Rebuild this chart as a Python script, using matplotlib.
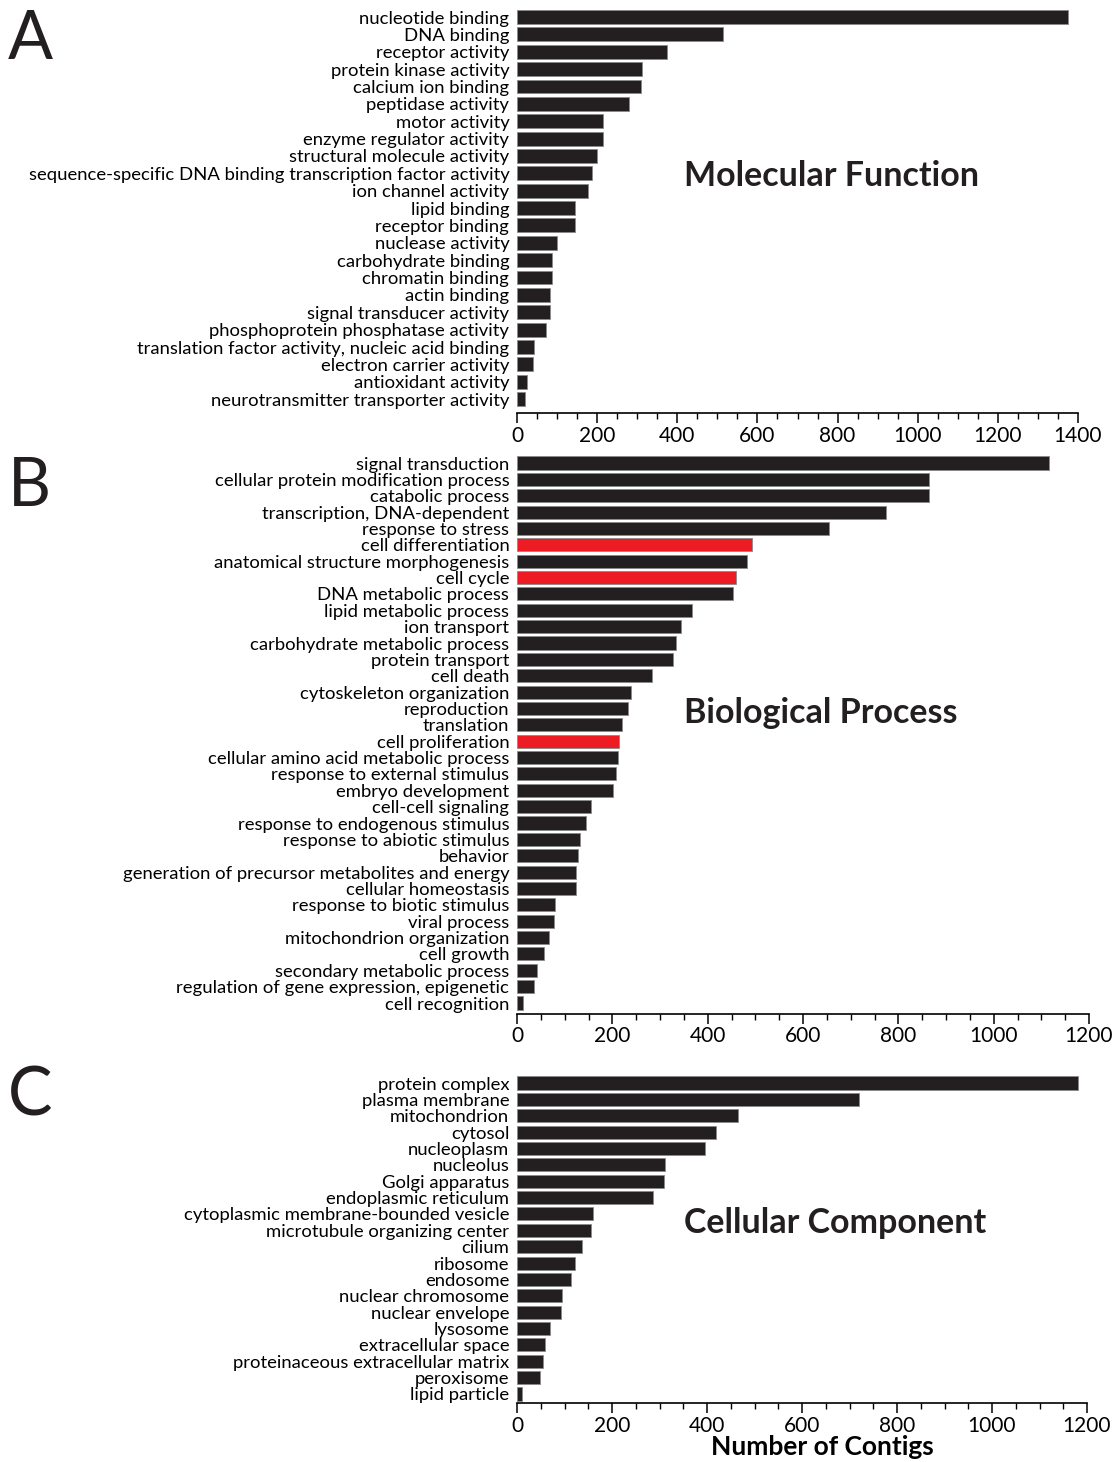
import numpy as np
import matplotlib.pyplot as plt
from matplotlib.ticker import MultipleLocator

plt.rcParams['font.family'] = ['Lato', 'DejaVu Sans']

# Panel A: Molecular Function
mf_labels = [
    "nucleotide binding", "DNA binding", "receptor activity",
    "protein kinase activity", "calcium ion binding", "peptidase activity",
    "motor activity", "enzyme regulator activity", "structural molecule activity",
    "sequence-specific DNA binding transcription factor activity",
    "ion channel activity", "lipid binding", "receptor binding",
    "nuclease activity", "carbohydrate binding", "chromatin binding",
    "actin binding", "signal transducer activity",
    "phosphoprotein phosphatase activity",
    "translation factor activity, nucleic acid binding",
    "electron carrier activity", "antioxidant activity",
    "neurotransmitter transporter activity",
]
mf_values = [1374, 514, 374, 312, 309, 279, 214, 214, 200, 187, 177, 145, 145,
             100, 87, 87, 82, 82, 72, 42, 40, 25, 20]

# Panel B: Biological Process
bp_labels = [
    "signal transduction", "cellular protein modification process",
    "catabolic process", "transcription, DNA-dependent", "response to stress",
    "cell differentiation", "anatomical structure morphogenesis", "cell cycle",
    "DNA metabolic process", "lipid metabolic process", "ion transport",
    "carbohydrate metabolic process", "protein transport", "cell death",
    "cytoskeleton organization", "reproduction", "translation",
    "cell proliferation", "cellular amino acid metabolic process",
    "response to external stimulus", "embryo development", "cell-cell signaling",
    "response to endogenous stimulus", "response to abiotic stimulus", "behavior",
    "generation of precursor metabolites and energy", "cellular homeostasis",
    "response to biotic stimulus", "viral process", "mitochondrion organization",
    "cell growth", "secondary metabolic process",
    "regulation of gene expression, epigenetic", "cell recognition",
]
bp_values = [1117, 864, 864, 774, 654, 493, 482, 459, 453, 367, 344, 333, 327,
             283, 239, 233, 220, 214, 212, 208, 201, 155, 145, 132, 128, 124,
             124, 80, 78, 67, 57, 42, 36, 13]
bp_highlight = ["cell differentiation", "cell cycle", "cell proliferation"]

# Panel C: Cellular Component
cc_labels = [
    "protein complex", "plasma membrane", "mitochondrion", "cytosol",
    "nucleoplasm", "nucleolus", "Golgi apparatus", "endoplasmic reticulum",
    "cytoplasmic membrane-bounded vesicle", "microtubule organizing center",
    "cilium", "ribosome", "endosome", "nuclear chromosome", "nuclear envelope",
    "lysosome", "extracellular space", "proteinaceous extracellular matrix",
    "peroxisome", "lipid particle",
]
cc_values = [1181, 720, 465, 419, 396, 312, 309, 286, 160, 156, 137, 122, 114,
             95, 93, 69, 59, 55, 48, 11]

DARK = '#231f20'
RED = '#ed1c24'
W, H = 1117, 1462


def px_axes(fig, x0, x1, ytop, ybot):
    return fig.add_axes([x0 / W, 1 - ybot / H, (x1 - x0) / W, (ybot - ytop) / H])


def draw_panel(ax, labels, values, xmax, title, highlight=(), pad_bottom=0.7):
    n = len(labels)
    y = np.arange(n)
    colors = [RED if lab in highlight else DARK for lab in labels]
    ax.barh(y, values, height=0.8, color=colors, edgecolor='#8a8a8a', linewidth=0.6)
    ax.set_yticks(y)
    ax.set_yticklabels(labels, fontsize=13.3)
    ax.set_ylim(n - 1 + pad_bottom, -0.55)
    ax.set_xlim(0, xmax)
    ax.xaxis.set_major_locator(MultipleLocator(200))
    ax.xaxis.set_minor_locator(MultipleLocator(50))
    for side in ['top', 'right', 'left']:
        ax.spines[side].set_visible(False)
    ax.spines['bottom'].set_linewidth(1.2)
    ax.tick_params(axis='y', length=0, pad=5.5)
    ax.tick_params(axis='x', which='major', length=7, width=1.1, labelsize=15, pad=2)
    ax.tick_params(axis='x', which='minor', length=4, width=1.0)
    t = ax.text(0.30, 0.5, title, transform=ax.transAxes, fontsize=24.5,
                fontweight='bold', color=DARK, va='center')
    return t


fig = plt.figure(figsize=(W / 100, H / 100), dpi=100)

axA = px_axes(fig, 517, 1078, 7.5, 413)
tA = draw_panel(axA, mf_labels, mf_values, 1400, "Molecular Function", pad_bottom=0.8)
tA.set_position((0.298, 1 - (176 - 7.5) / (413 - 7.5)))

axB = px_axes(fig, 517, 1089, 454, 1014)
tB = draw_panel(axB, bp_labels, bp_values, 1200, "Biological Process",
                highlight=bp_highlight, pad_bottom=0.67)
tB.set_position((0.292, 1 - (713 - 454) / (1014 - 454)))

axC = px_axes(fig, 517, 1087, 1074, 1403)
tC = draw_panel(axC, cc_labels, cc_values, 1200, "Cellular Component", pad_bottom=0.55)
tC.set_position((0.293, 1 - (1223 - 1074) / (1403 - 1074)))
axC.set_xlabel("Number of Contigs", fontsize=19, fontweight='bold', labelpad=0)
axC.xaxis.set_label_coords((822 - 517) / (1087 - 517), -(1447 - 1403) / (1403 - 1074),
                           transform=axC.transAxes)
axC.xaxis.label.set_va('center')

for letter, ypix in [("A", 40), ("B", 487), ("C", 1097)]:
    fig.text(8 / W, 1 - ypix / H, letter, fontsize=48, color=DARK,
             ha='left', va='center')

fig.savefig('out.png', dpi=100)
